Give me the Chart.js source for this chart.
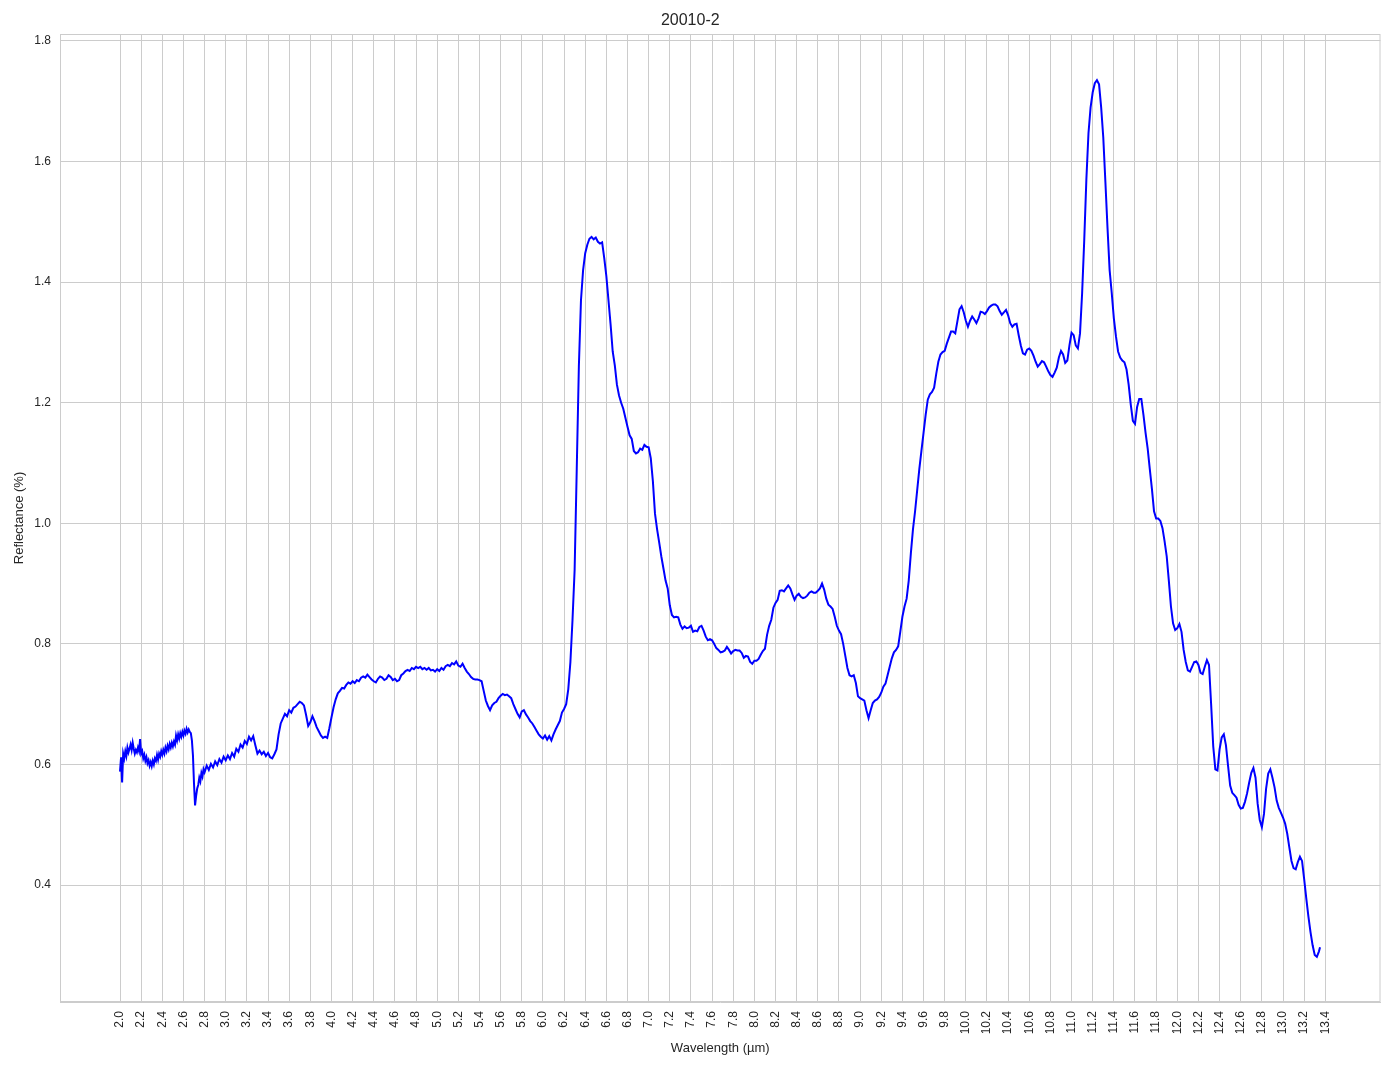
<!DOCTYPE html>
<html>
<head>
<meta charset="utf-8">
<title>20010-2</title>
<script src="https://cdn.jsdelivr.net/npm/chart.js@4.4.1/dist/chart.umd.min.js"></script>
<style>
  html,body{margin:0;padding:0;background:#fff;}
  #wrap{width:1394px;height:1069px;}
</style>
</head>
<body>
<div id="wrap"><canvas id="spectrum" width="1394" height="1069"></canvas></div>
<script>
// noisy start of the spectrum, read every 0.01 um
const wlNoisy = [
  2.00,2.01,2.02,2.03,2.04,2.05,2.06,2.07,2.08,2.09,
  2.10,2.11,2.12,2.13,2.14,2.15,2.16,2.17,2.18,2.19,
  2.20,2.21,2.22,2.23,2.24,2.25,2.26,2.27,2.28,2.29,
  2.30,2.31,2.32,2.33,2.34,2.35,2.36,2.37,2.38,2.39,
  2.40,2.41,2.42,2.43,2.44,2.45,2.46,2.47,2.48,2.49,
  2.50,2.51,2.52,2.53,2.54,2.55,2.56,2.57,2.58,2.59,
  2.60,2.61,2.62,2.63,2.64,2.65,2.66,2.67,2.68,2.69,
  2.70,2.71,2.72,2.73,2.74,2.75,2.76,2.77,2.78,2.79,
  2.80
];
const rfNoisy = [
  0.588,0.612,0.570,0.618,0.610,0.622,0.614,0.628,0.620,0.626,
  0.633,0.624,0.636,0.626,0.618,0.624,0.620,0.628,0.622,0.642,
  0.618,0.622,0.610,0.616,0.606,0.612,0.602,0.607,0.598,0.604,
  0.597,0.606,0.600,0.610,0.606,0.616,0.608,0.618,0.613,0.622,
  0.616,0.624,0.618,0.628,0.622,0.631,0.625,0.634,0.628,0.636,
  0.630,0.638,0.633,0.648,0.640,0.650,0.643,0.652,0.646,0.654,
  0.648,0.656,0.651,0.659,0.653,0.658,0.654,0.652,0.640,0.615,
  0.568,0.532,0.548,0.560,0.566,0.578,0.572,0.586,0.580,0.592,
  0.587
];

// rest of the spectrum, read every 0.02 um
const wlMain = [
  2.82,2.84,2.86,2.88,2.90,2.92,2.94,2.96,2.98,3.00,
  3.02,3.04,3.06,3.08,3.10,3.12,3.14,3.16,3.18,3.20,
  3.22,3.24,3.26,3.28,3.30,3.32,3.34,3.36,3.38,3.40,
  3.42,3.44,3.46,3.48,3.50,3.52,3.54,3.56,3.58,3.60,
  3.62,3.64,3.66,3.68,3.70,3.72,3.74,3.76,3.78,3.80,
  3.82,3.84,3.86,3.88,3.90,3.92,3.94,3.96,3.98,4.00,
  4.02,4.04,4.06,4.08,4.10,4.12,4.14,4.16,4.18,4.20,
  4.22,4.24,4.26,4.28,4.30,4.32,4.34,4.36,4.38,4.40,
  4.42,4.44,4.46,4.48,4.50,4.52,4.54,4.56,4.58,4.60,
  4.62,4.64,4.66,4.68,4.70,4.72,4.74,4.76,4.78,4.80,
  4.82,4.84,4.86,4.88,4.90,4.92,4.94,4.96,4.98,5.00,
  5.02,5.04,5.06,5.08,5.10,5.12,5.14,5.16,5.18,5.20,
  5.22,5.24,5.26,5.28,5.30,5.32,5.34,5.36,5.38,5.40,
  5.42,5.44,5.46,5.48,5.50,5.52,5.54,5.56,5.58,5.60,
  5.62,5.64,5.66,5.68,5.70,5.72,5.74,5.76,5.78,5.80,
  5.82,5.84,5.86,5.88,5.90,5.92,5.94,5.96,5.98,6.00,
  6.02,6.04,6.06,6.08,6.10,6.12,6.14,6.16,6.18,6.20,
  6.22,6.24,6.26,6.28,6.30,6.32,6.34,6.36,6.38,6.40,
  6.42,6.44,6.46,6.48,6.50,6.52,6.54,6.56,6.58,6.60,
  6.62,6.64,6.66,6.68,6.70,6.72,6.74,6.76,6.78,6.80,
  6.82,6.84,6.86,6.88,6.90,6.92,6.94,6.96,6.98,7.00,
  7.02,7.04,7.06,7.08,7.10,7.12,7.14,7.16,7.18,7.20,
  7.22,7.24,7.26,7.28,7.30,7.32,7.34,7.36,7.38,7.40,
  7.42,7.44,7.46,7.48,7.50,7.52,7.54,7.56,7.58,7.60,
  7.62,7.64,7.66,7.68,7.70,7.72,7.74,7.76,7.78,7.80,
  7.82,7.84,7.86,7.88,7.90,7.92,7.94,7.96,7.98,8.00,
  8.02,8.04,8.06,8.08,8.10,8.12,8.14,8.16,8.18,8.20,
  8.22,8.24,8.26,8.28,8.30,8.32,8.34,8.36,8.38,8.40,
  8.42,8.44,8.46,8.48,8.50,8.52,8.54,8.56,8.58,8.60,
  8.62,8.64,8.66,8.68,8.70,8.72,8.74,8.76,8.78,8.80,
  8.82,8.84,8.86,8.88,8.90,8.92,8.94,8.96,8.98,9.00,
  9.02,9.04,9.06,9.08,9.10,9.12,9.14,9.16,9.18,9.20,
  9.22,9.24,9.26,9.28,9.30,9.32,9.34,9.36,9.38,9.40,
  9.42,9.44,9.46,9.48,9.50,9.52,9.54,9.56,9.58,9.60,
  9.62,9.64,9.66,9.68,9.70,9.72,9.74,9.76,9.78,9.80,
  9.82,9.84,9.86,9.88,9.90,9.92,9.94,9.96,9.98,10.00,
  10.02,10.04,10.06,10.08,10.10,10.12,10.14,10.16,10.18,10.20,
  10.22,10.24,10.26,10.28,10.30,10.32,10.34,10.36,10.38,10.40,
  10.42,10.44,10.46,10.48,10.50,10.52,10.54,10.56,10.58,10.60,
  10.62,10.64,10.66,10.68,10.70,10.72,10.74,10.76,10.78,10.80,
  10.82,10.84,10.86,10.88,10.90,10.92,10.94,10.96,10.98,11.00,
  11.02,11.04,11.06,11.08,11.10,11.12,11.14,11.16,11.18,11.20,
  11.22,11.24,11.26,11.28,11.30,11.32,11.34,11.36,11.38,11.40,
  11.42,11.44,11.46,11.48,11.50,11.52,11.54,11.56,11.58,11.60,
  11.62,11.64,11.66,11.68,11.70,11.72,11.74,11.76,11.78,11.80,
  11.82,11.84,11.86,11.88,11.90,11.92,11.94,11.96,11.98,12.00,
  12.02,12.04,12.06,12.08,12.10,12.12,12.14,12.16,12.18,12.20,
  12.22,12.24,12.26,12.28,12.30,12.32,12.34,12.36,12.38,12.40,
  12.42,12.44,12.46,12.48,12.50,12.52,12.54,12.56,12.58,12.60,
  12.62,12.64,12.66,12.68,12.70,12.72,12.74,12.76,12.78,12.80,
  12.82,12.84,12.86,12.88,12.90,12.92,12.94,12.96,12.98,13.00,
  13.02,13.04,13.06,13.08,13.10,13.12,13.14,13.16,13.18,13.20,
  13.22,13.24,13.26,13.28,13.30,13.32,13.34,13.35
];
const rfMain = [
  0.598,0.591,0.601,0.595,0.605,0.599,0.609,0.603,0.613,0.607,
  0.615,0.609,0.619,0.613,0.626,0.621,0.633,0.628,0.639,0.634,
  0.646,0.640,0.647,0.632,0.618,0.623,0.617,0.621,0.614,0.619,
  0.612,0.610,0.617,0.625,0.650,0.668,0.676,0.684,0.680,0.690,
  0.686,0.694,0.696,0.700,0.704,0.702,0.698,0.682,0.664,0.670,
  0.680,0.672,0.662,0.655,0.648,0.644,0.646,0.644,0.660,0.678,
  0.695,0.708,0.718,0.722,0.727,0.726,0.732,0.736,0.734,0.738,
  0.735,0.740,0.738,0.744,0.746,0.744,0.749,0.745,0.741,0.738,
  0.736,0.742,0.746,0.744,0.740,0.742,0.748,0.745,0.740,0.742,
  0.738,0.740,0.748,0.751,0.755,0.757,0.755,0.760,0.758,0.762,
  0.760,0.762,0.758,0.760,0.757,0.760,0.756,0.757,0.754,0.758,
  0.755,0.760,0.757,0.763,0.765,0.763,0.768,0.766,0.771,0.764,
  0.762,0.767,0.760,0.754,0.750,0.745,0.742,0.741,0.741,0.740,
  0.738,0.722,0.706,0.697,0.690,0.698,0.702,0.704,0.710,0.714,
  0.717,0.715,0.716,0.713,0.710,0.700,0.692,0.684,0.678,0.688,
  0.690,0.683,0.678,0.672,0.668,0.662,0.656,0.650,0.646,0.643,
  0.648,0.641,0.647,0.640,0.650,0.658,0.665,0.672,0.686,0.692,
  0.700,0.725,0.770,0.840,0.923,1.090,1.260,1.370,1.420,1.448,
  1.462,1.472,1.475,1.471,1.474,1.467,1.464,1.466,1.440,1.410,
  1.370,1.330,1.285,1.262,1.230,1.212,1.200,1.190,1.175,1.160,
  1.146,1.140,1.120,1.116,1.118,1.124,1.122,1.130,1.127,1.126,
  1.108,1.070,1.016,0.990,0.968,0.945,0.925,0.905,0.892,0.864,
  0.848,0.844,0.845,0.844,0.832,0.825,0.829,0.826,0.827,0.830,
  0.820,0.822,0.821,0.828,0.830,0.822,0.812,0.806,0.808,0.806,
  0.800,0.793,0.790,0.786,0.787,0.789,0.795,0.790,0.784,0.788,
  0.790,0.789,0.789,0.785,0.777,0.780,0.779,0.770,0.767,0.772,
  0.772,0.775,0.782,0.788,0.792,0.815,0.830,0.840,0.860,0.868,
  0.873,0.888,0.889,0.887,0.892,0.897,0.892,0.882,0.873,0.880,
  0.883,0.878,0.876,0.877,0.880,0.885,0.887,0.885,0.885,0.888,
  0.892,0.900,0.890,0.875,0.865,0.862,0.858,0.845,0.830,0.822,
  0.816,0.800,0.780,0.760,0.748,0.746,0.748,0.735,0.713,0.710,
  0.708,0.706,0.690,0.677,0.690,0.702,0.706,0.708,0.712,0.719,
  0.729,0.734,0.748,0.762,0.776,0.786,0.790,0.796,0.820,0.845,
  0.862,0.875,0.905,0.950,0.990,1.020,1.055,1.090,1.120,1.150,
  1.180,1.205,1.214,1.218,1.225,1.248,1.268,1.280,1.284,1.286,
  1.298,1.308,1.318,1.318,1.315,1.335,1.355,1.360,1.350,1.336,
  1.326,1.336,1.343,1.338,1.332,1.340,1.351,1.350,1.347,1.352,
  1.358,1.361,1.363,1.363,1.360,1.352,1.346,1.350,1.354,1.345,
  1.332,1.326,1.330,1.331,1.312,1.295,1.282,1.280,1.288,1.290,
  1.286,1.278,1.268,1.260,1.264,1.269,1.267,1.260,1.252,1.246,
  1.243,1.250,1.258,1.275,1.286,1.280,1.266,1.270,1.295,1.316,
  1.312,1.295,1.290,1.315,1.382,1.470,1.570,1.647,1.690,1.715,
  1.730,1.735,1.728,1.690,1.640,1.566,1.490,1.420,1.382,1.340,
  1.310,1.285,1.275,1.270,1.267,1.255,1.230,1.197,1.170,1.165,
  1.193,1.206,1.206,1.180,1.150,1.124,1.090,1.057,1.020,1.008,
  1.008,1.004,0.992,0.970,0.945,0.905,0.862,0.834,0.823,0.826,
  0.833,0.820,0.790,0.770,0.756,0.754,0.762,0.770,0.771,0.765,
  0.752,0.750,0.762,0.773,0.765,0.700,0.630,0.592,0.590,0.625,
  0.645,0.650,0.632,0.598,0.565,0.553,0.549,0.545,0.533,0.527,
  0.528,0.538,0.552,0.570,0.586,0.594,0.578,0.535,0.508,0.496,
  0.518,0.560,0.585,0.592,0.578,0.562,0.540,0.528,0.520,0.512,
  0.502,0.485,0.462,0.440,0.428,0.426,0.438,0.447,0.440,0.410,
  0.378,0.348,0.322,0.300,0.284,0.281,0.290,0.297
];

// tick labels
const xTicks = [
  2.0,2.2,2.4,2.6,2.8,3.0,3.2,3.4,3.6,3.8,4.0,4.2,4.4,4.6,4.8,
  5.0,5.2,5.4,5.6,5.8,6.0,6.2,6.4,6.6,6.8,7.0,7.2,7.4,7.6,7.8,
  8.0,8.2,8.4,8.6,8.8,9.0,9.2,9.4,9.6,9.8,10.0,10.2,10.4,10.6,10.8,
  11.0,11.2,11.4,11.6,11.8,12.0,12.2,12.4,12.6,12.8,13.0,13.2,13.4
];
const yTicks = [0.4,0.6,0.8,1.0,1.2,1.4,1.6,1.8];

const gridGrey = '#cccccc';
const textGrey = '#262626';
Chart.defaults.font.family = "'Liberation Sans', Arial, sans-serif";

const points = wlNoisy.map((x,i)=>({x, y:rfNoisy[i]}))
  .concat(wlMain.map((x,i)=>({x, y:rfMain[i]})));

// light frame all round the plot area
const framePlugin = {
  id:'frame',
  beforeDatasetsDraw(chart){
    const {ctx, chartArea:a} = chart;
    ctx.save();
    ctx.strokeStyle = gridGrey; ctx.lineWidth = 1;
    ctx.strokeRect(a.left+0.5, a.top+0.5, a.right-a.left-1, a.bottom-a.top-1);
    ctx.restore();
  }
};

new Chart(document.getElementById('spectrum'), {
  type:'scatter',
  data:{
    datasets:[{
      label:'20010-2',
      data:points,
      showLine:true,
      borderColor:'#0000ff',
      borderWidth:2,
      pointRadius:0,
      tension:0,
      fill:false
    }]
  },
  options:{
    responsive:false,
    animation:false,
    layout:{padding:{left:0,right:13.5,top:0,bottom:0}},
    plugins:{
      legend:{display:false},
      tooltip:{enabled:false},
      title:{display:true, text:'20010-2', color:textGrey,
        font:{size:16, weight:'normal'}, padding:{top:11,bottom:3.8}}
    },
    scales:{
      x:{
        type:'linear', min:1.4325, max:13.922,
        afterBuildTicks: s => { s.ticks = xTicks.map(v=>({value:v})); },
        afterFit: s => { s.height = 67; },
        ticks:{autoSkip:false, minRotation:90, maxRotation:90, padding:9, color:textGrey,
          font:{size:12}, callback:v=>Number(v).toFixed(1)},
        grid:{color:gridGrey, lineWidth:1, drawTicks:false},
        border:{display:true, color:gridGrey},
        title:{display:true, text:'Wavelength (µm)', color:textGrey,
          font:{size:13}, padding:{top:0,bottom:13.2}}
      },
      y:{
        type:'linear', min:0.206, max:1.8116,
        afterBuildTicks: s => { s.ticks = yTicks.map(v=>({value:v})); },
        afterFit: s => { s.width = 60; },
        ticks:{padding:9, color:textGrey, font:{size:12}, callback:v=>Number(v).toFixed(1)},
        grid:{color:gridGrey, lineWidth:1, drawTicks:false},
        border:{display:true, color:gridGrey},
        title:{display:true, text:'Reflectance (%)', color:textGrey,
          font:{size:13}, padding:{top:11.2,bottom:0}}
      }
    }
  },
  plugins:[framePlugin]
});
</script>
</body>
</html>
